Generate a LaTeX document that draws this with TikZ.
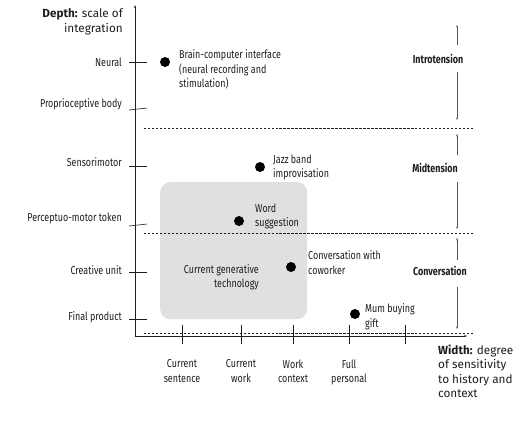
\documentclass[tikz,border=0pt]{standalone}
\usepackage{fontspec}
\setmainfont{Fira Sans}[FakeStretch=0.78]
\newfontfamily\widefont{Fira Sans}
\usetikzlibrary{arrows.meta}
\definecolor{ink}{HTML}{1E1E1E}
\definecolor{arrowgray}{HTML}{555555}
\definecolor{boxgray}{HTML}{E0E0E0}
\tikzset{
  lbl/.style={font=\fontsize{11.5}{14.5}\selectfont, text=ink, inner sep=0pt},
  ylbl/.style={lbl, anchor=east},
  xlbl/.style={lbl, align=center, anchor=north},
  ptlbl/.style={lbl, align=left, anchor=north west},
  zone/.style={font=\fontsize{11.5}{14}\selectfont\bfseries, text=ink, inner sep=0pt},
  axislbl/.style={font=\widefont\fontsize{11.8}{14.6}\selectfont, text=ink, inner sep=0pt},
  dot/.style={circle, fill=black, minimum size=10bp, inner sep=0pt},
  tick/.style={draw=ink, line width=0.6pt},
  sep/.style={draw=ink, dashed, dash pattern=on 2.5pt off 1.5pt, line width=0.5pt},
  zarrow/.style={draw=arrowgray, line width=0.5pt, -{Stealth[length=2.6pt,width=2pt]}},
}
\begin{document}
\begin{tikzpicture}[x=1bp,y=-1bp]
\useasboundingbox (0,0) rectangle (524,424);
% gray region
\node[draw=none, fill=boxgray, rounded corners=10bp, minimum width=147bp, minimum height=137bp, anchor=north west, inner sep=0pt] (gen) at (160,182) {};
\node[lbl, align=right, anchor=north east] (gentxt) at (259,264) {Current generative\\technology};
% axes
\coordinate (O) at (135,336);
\coordinate (ytop) at (135,5);
\coordinate (xend) at (467,336);
\draw[ink, line width=0.7pt, -{Stealth[length=3pt,width=2.2pt]}] (O) -- (ytop);
\draw[ink, line width=0.7pt, -{Stealth[length=3pt,width=2.2pt]}] (O) -- (xend);
% dashed separators
\coordinate (s1a) at (144,128); \coordinate (s1b) at (473,128);
\coordinate (s2a) at (144,233); \coordinate (s2b) at (473,233);
\coordinate (s3a) at (144,333); \coordinate (s3b) at (473,333);
\draw[sep] (s1a) -- (s1b);
\draw[sep] (s2a) -- (s2b);
\draw[sep] (s3a) -- (s3b);
% y ticks and labels
\coordinate (t1a) at (129,62);  \coordinate (t1b) at (147,62);
\coordinate (t2a) at (129,110); \coordinate (t2b) at (147,108);
\coordinate (t3a) at (129,166); \coordinate (t3b) at (147,166);
\coordinate (t4a) at (129,226); \coordinate (t4b) at (147,224);
\coordinate (t5a) at (129,272); \coordinate (t5b) at (147,272);
\coordinate (t6a) at (129,319); \coordinate (t6b) at (147,319);
\draw[tick] (t1a) -- (t1b);
\draw[tick] (t2a) -- (t2b);
\draw[tick] (t3a) -- (t3b);
\draw[tick] (t4a) -- (t4b);
\draw[tick] (t5a) -- (t5b);
\draw[tick] (t6a) -- (t6b);
\node[ylbl] (yl1) at (122,62) {Neural};
\node[ylbl] (yl2) at (122,104) {Proprioceptive body};
\node[ylbl] (yl3) at (122,162) {Sensorimotor};
\node[ylbl] (yl4) at (122,218) {Perceptuo-motor token};
\node[ylbl] (yl5) at (122,270) {Creative unit};
\node[ylbl] (yl6) at (122,317) {Final product};
% x ticks and labels
\foreach \n/\x in {a/182,b/241,c/293,d/349,e/405}{
  \coordinate (x\n1) at (\x,325); \coordinate (x\n2) at (\x,344);
  \draw[tick] (x\n1) -- (x\n2);
}
\node[xlbl] (xl1) at (182,359.5) {Current\\sentence};
\node[xlbl] (xl2) at (241,359.5) {Current\\work};
\node[xlbl] (xl3) at (293,359.5) {Work\\context};
\node[xlbl] (xl4) at (349,359.5) {Full\\personal};
% axis titles
\node[axislbl, align=right, anchor=north east] (depth) at (123,8.5) {\textbf{Depth:} scale of\\integration};
\node[axislbl, align=left, anchor=north west] (width) at (438,344.5) {\textbf{Width:} degree\\of sensitivity\\to history and\\context};
% points
\node[dot] (bci) at (165,62) {};
\node[ptlbl] (bcil) at (179,49.5) {Brain-computer interface\\(neural recording and\\stimulation)};
\node[dot] (jazz) at (260,167) {};
\node[ptlbl] (jazzl) at (273,154.5) {Jazz band\\improvisation};
\node[dot] (word) at (239,221) {};
\node[ptlbl] (wordl) at (255,203.5) {Word\\suggestion};
\node[dot] (conv) at (291,267) {};
\node[ptlbl] (convl) at (308,250.5) {Conversation with\\coworker};
\node[dot] (mum) at (355,314) {};
\node[ptlbl] (muml) at (365,303.5) {Mum buying\\gift};
% zones
\node[zone] (intro) at (438,59) {Introtension};
\node[zone] (mid) at (435,168) {Midtension};
\node[zone] (convz) at (440,271) {Conversation};
\coordinate (i1) at (457,45); \coordinate (i2) at (457,25);
\coordinate (i3) at (457,72); \coordinate (i4) at (457,120);
\coordinate (m1) at (457,155); \coordinate (m2) at (457,134);
\coordinate (m3) at (457,182); \coordinate (m4) at (457,229);
\coordinate (c1) at (457,260); \coordinate (c2) at (457,238);
\coordinate (c3) at (457,287); \coordinate (c4) at (457,329);
\draw[zarrow] (i1) -- (i2);
\draw[zarrow] (i3) -- (i4);
\draw[zarrow] (m1) -- (m2);
\draw[zarrow] (m3) -- (m4);
\draw[zarrow] (c1) -- (c2);
\draw[zarrow] (c3) -- (c4);
\end{tikzpicture}
\end{document}
